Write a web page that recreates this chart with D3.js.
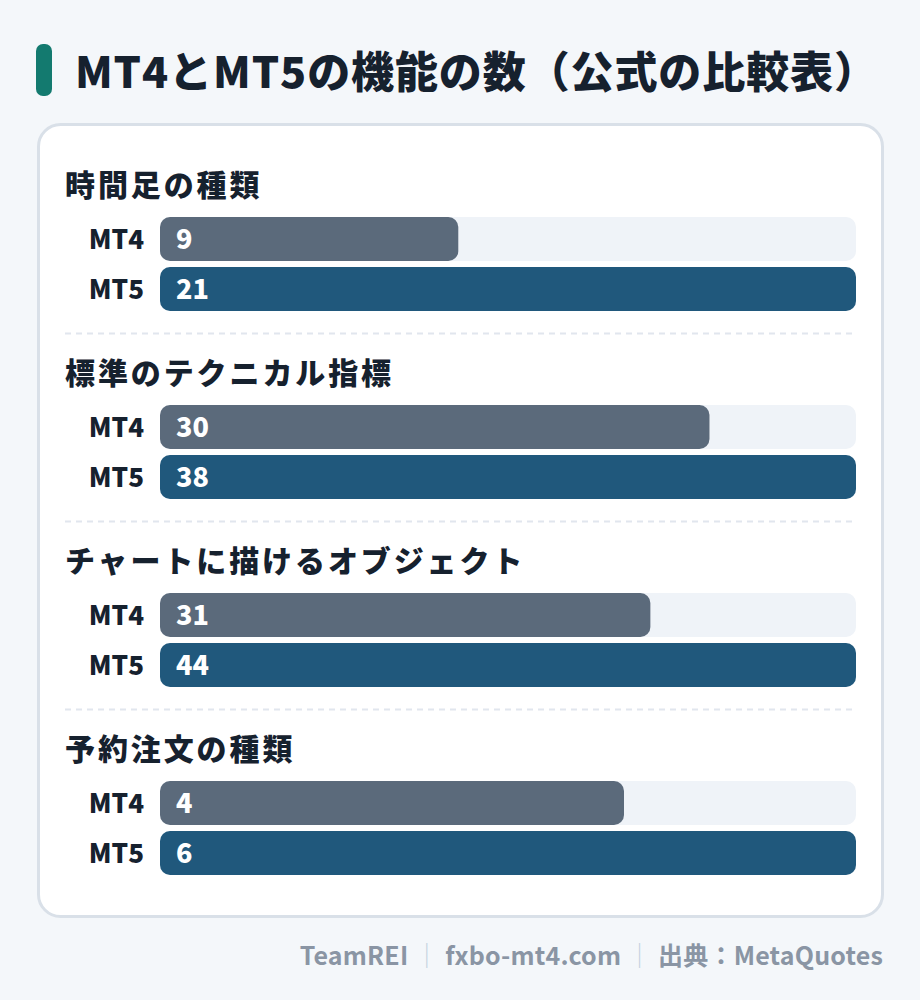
<!DOCTYPE html>
<html><head><meta charset="utf-8">
<script src="https://cdn.jsdelivr.net/npm/d3@7"></script>
<style>
html,body{margin:0;padding:0;background:#f4f7fa;}
svg{display:block;font-family:"Noto Sans CJK JP","Noto Sans",sans-serif;}
</style></head><body>
<svg id="chart" width="920" height="1000"></svg>
<script>
const title = "MT4とMT5の機能の数（公式の比較表）";
const categories = ["時間足の種類", "標準のテクニカル指標", "チャートに描けるオブジェクト", "予約注文の種類"];
const seriesNames = ["MT4", "MT5"];
const mt4Values = [9, 30, 31, 4];
const mt5Values = [21, 38, 44, 6];
const footerParts = ["TeamREI", "fxbo-mt4.com", "出典：MetaQuotes"];

const colors = { MT4: "#5b6a7b", MT5: "#20587c", track: "#eff3f8", text: "#16212e" };

const svg = d3.select("#chart");
svg.append("rect").attr("width", 920).attr("height", 1000).attr("fill", "#f4f7fa");

// title
svg.append("rect").attr("x", 36).attr("y", 44).attr("width", 16).attr("height", 52).attr("rx", 7).attr("fill", "#137a6f");
svg.append("text").attr("x", 75).attr("y", 88).attr("font-size", 43).attr("font-weight", 900)
  .attr("letter-spacing", 0.9).attr("fill", colors.text).text(title);

// card
svg.append("rect").attr("x", 38.5).attr("y", 124.5).attr("width", 844).attr("height", 792)
  .attr("rx", 22).attr("fill", "#ffffff").attr("stroke", "#d9e0e8").attr("stroke-width", 3);

const trackX0 = 160, trackW = 696;
const groupY = d3.scaleBand().domain(categories).range([185, 185 + 188 * categories.length]).paddingInner(0).paddingOuter(0);
const rowY = d3.scaleBand().domain(seriesNames).range([32, 126]).paddingInner(0.12);

categories.forEach((cat, i) => {
  const g = svg.append("g").attr("transform", `translate(0,${groupY(cat)})`);
  const vals = { MT4: mt4Values[i], MT5: mt5Values[i] };
  const x = d3.scaleLinear().domain([0, d3.max([vals.MT4, vals.MT5])]).range([0, trackW]);
  g.append("text").attr("x", 65).attr("y", 11).attr("font-size", 30).attr("font-weight", 900)
    .attr("letter-spacing", 2.9).attr("fill", colors.text).text(cat);
  seriesNames.forEach(s => {
    const y0 = rowY(s), h = rowY.bandwidth();
    g.append("rect").attr("x", trackX0).attr("y", y0).attr("width", trackW).attr("height", h)
      .attr("rx", 10).attr("fill", colors.track);
    g.append("rect").attr("x", trackX0).attr("y", y0).attr("width", x(vals[s])).attr("height", h)
      .attr("rx", 10).attr("fill", colors[s]);
    g.append("text").attr("x", 144).attr("y", y0 + h / 2).attr("dy", "0.38em").attr("text-anchor", "end")
      .attr("font-size", 26).attr("font-weight", 900).attr("fill", colors.text).text(s);
    g.append("text").attr("x", 176).attr("y", y0 + h / 2).attr("dy", "0.38em")
      .attr("font-size", 27).attr("font-weight", 900).attr("fill", "#ffffff").text(vals[s]);
  });
  if (i < categories.length - 1) {
    g.append("line").attr("x1", 65).attr("x2", 856).attr("y1", 148.5).attr("y2", 148.5)
      .attr("stroke", "#e1e6ee").attr("stroke-width", 2).attr("stroke-dasharray", "6,5");
  }
});

// footer
const ft = svg.append("text").attr("x", 883).attr("y", 965).attr("text-anchor", "end")
  .attr("font-size", 25).attr("font-weight", 700).attr("letter-spacing", 0.2).attr("fill", "#8a95a4");
footerParts.forEach((p, i) => {
  if (i > 0) ft.append("tspan").attr("fill", "#c4d2e0").attr("font-weight", 400).text(" ｜ ");
  ft.append("tspan").text(p);
});
</script>
</body></html>
